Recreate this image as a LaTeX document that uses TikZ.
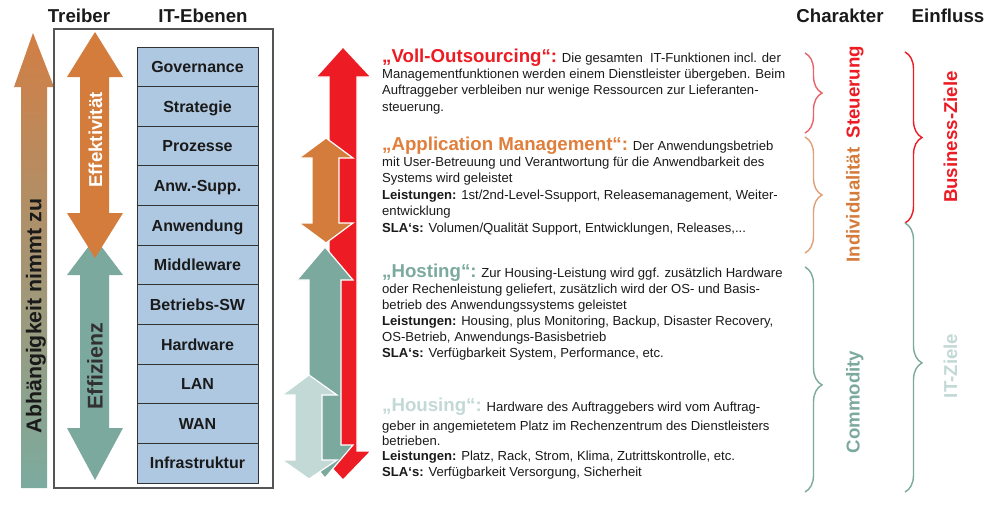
\documentclass[tikz,border=0pt]{standalone}
\usepackage{fontspec}
\setmainfont{Liberation Sans}
\usetikzlibrary{decorations.pathreplacing}
\definecolor{cred}{HTML}{ED1C24}
\definecolor{corange}{HTML}{D47C3C}
\definecolor{ctorange}{HTML}{E07F3C}
\definecolor{cteal}{HTML}{7CA99E}
\definecolor{clteal}{HTML}{C3D9D5}
\definecolor{cblue}{HTML}{AEC8E1}
\definecolor{ctext}{HTML}{1A1A1A}
\definecolor{cbrred}{HTML}{E8646C}
\definecolor{cbror}{HTML}{E0A07A}
\definecolor{cabtop}{HTML}{D27E44}
\definecolor{cabbot}{HTML}{7BAB9F}
\definecolor{cframe}{HTML}{555555}
\newcommand\mytitle[2]{{\fontsize{18.67}{22}\selectfont\bfseries\color{#1}#2}}
\begin{document}
\begin{tikzpicture}[x=1pt,y=-1pt,
  hdr/.style={anchor=base, inner sep=0pt, font=\fontsize{18.67}{22}\selectfont\bfseries, text=ctext},
  layer/.style={draw=black!80, fill=cblue, line width=0.9pt, minimum width=121pt, minimum height=39.636pt,
     text height=11.6pt, text depth=0pt, inner sep=0pt, font=\fontsize{16}{19}\selectfont\bfseries, text=ctext},
  ln/.style={anchor=base west, inner sep=0pt, font=\fontsize{13.1}{16}\selectfont, text=ctext},
  vlab/.style={anchor=base, rotate=90, inner sep=0pt, font=\fontsize{18.67}{22}\selectfont\bfseries},
  bigvlab/.style={anchor=base, rotate=90, inner sep=0pt, font=\fontsize{21.33}{25}\selectfont\bfseries},
  arr/.style={draw=white, line width=1.2pt, line join=miter},
  brc/.style={decorate, decoration={brace, amplitude=17pt}, line width=1.4pt},
]
\fill[white] (0,0) rectangle (996,507);
\useasboundingbox (0,0) rectangle (996,507);

% headers
\node[hdr] (hTreiber) at (79,22) {Treiber};
\node[hdr] (hIT) at (203,22) {IT-Ebenen};
\node[hdr] (hChar) at (840,22) {Charakter};
\node[hdr] (hEinfl) at (948,22) {Einfluss};

% big left gradient arrow
\shade[top color=cabtop, bottom color=cabbot]
  (33,33) -- (54,87) -- (47,87) -- (47,488) -- (21,488) -- (21,87) -- (14,87) -- cycle;
\node[bigvlab, text=ctext] (abh) at (41.5,316) {Abhängigkeit nimmt zu};

% frame
\draw[cframe, line width=1.4pt] (54,29) rectangle (273,488);

% Effizienz / Effektivitaet arrows
\fill[cteal] (95,238) -- (123,275) -- (109,275) -- (109,428) -- (123,428) -- (95,480)
  -- (67,428) -- (80,428) -- (80,275) -- (67,275) -- cycle;
\fill[corange] (95,32) -- (123,77) -- (109,77) -- (109,213) -- (123,213) -- (95,258)
  -- (67,213) -- (80,213) -- (80,77) -- (67,77) -- cycle;
\node[vlab, text=white] (effekt) at (102,140) {Effektivität};
\node[bigvlab, text=ctext!90] (effiz) at (102.5,366) {Effizienz};

% layers
\foreach \t [count=\i] in {Governance,Strategie,Prozesse,Anw.-Supp.,Anwendung,Middleware,Betriebs-SW,Hardware,LAN,WAN,Infrastruktur}{
  \node[layer] (l\i) at (197.5,{47+39.636*(\i-0.5)}) {\t};
}

% middle arrows
\filldraw[arr, fill=cred] (343,47) -- (371,77) -- (357,77) -- (357,451) -- (371,451) -- (343,480)
  -- (316,451) -- (329,451) -- (329,77) -- (316,77) -- cycle;
\filldraw[arr, fill=corange] (326,138) -- (353,158) -- (339,158) -- (339,223) -- (353,223) -- (326,243)
  -- (299,223) -- (312,223) -- (312,158) -- (299,158) -- cycle;
\filldraw[arr, fill=cteal] (325,247) -- (353,280) -- (341,280) -- (341,445) -- (353,445) -- (325,478)
  -- (297,445) -- (309,445) -- (309,280) -- (297,280) -- cycle;
\filldraw[arr, fill=clteal] (309,375) -- (337,395) -- (322,395) -- (322,460) -- (337,460) -- (309,479)
  -- (282,460) -- (295,460) -- (295,395) -- (282,395) -- cycle;

% text blocks
\node[ln] (v1) at (382,62.5) {\mytitle{cred}{„Voll-Outsourcing“:} Die gesamten~ IT-Funktionen incl. der};
\node[ln] (v2) at (382,78.5) {Managementfunktionen werden einem Dienstleister übergeben. Beim};
\node[ln] (v3) at (382,94.7) {Auftraggeber verbleiben nur wenige Ressourcen zur Lieferanten-};
\node[ln] (v4) at (382,111) {steuerung.};

\node[ln] (a1) at (382,150) {\mytitle{ctorange}{„Application Management“:} Der Anwendungsbetrieb};
\node[ln] (a2) at (382,166) {mit User-Betreuung und Verantwortung für die Anwendbarkeit des};
\node[ln] (a3) at (382,182.5) {Systems wird geleistet};
\node[ln] (a4) at (382,199) {\textbf{Leistungen:} 1st/2nd-Level-Ssupport, Releasemanagement, Weiter-};
\node[ln] (a5) at (382,215.5) {entwicklung};
\node[ln] (a6) at (382,232) {\textbf{SLA‘s:} Volumen/Qualität Support, Entwicklungen, Releases,...};

\node[ln] (h1) at (382,277) {\mytitle{cteal}{„Hosting“:} Zur Housing-Leistung wird ggf. zusätzlich Hardware};
\node[ln] (h2) at (382,293) {oder Rechenleistung geliefert, zusätzlich wird der OS- und Basis-};
\node[ln] (h3) at (382,309.3) {betrieb des Anwendungssystems geleistet};
\node[ln] (h4) at (382,325.5) {\textbf{Leistungen:} Housing, plus Monitoring, Backup, Disaster Recovery,};
\node[ln] (h5) at (382,341.5) {OS-Betrieb, Anwendungs-Basisbetrieb};
\node[ln] (h6) at (382,357.5) {\textbf{SLA‘s:} Verfügbarkeit System, Performance, etc.};

\node[ln] (g1) at (382,411) {\mytitle{clteal}{„Housing“:} Hardware des Auftraggebers wird vom Auftrag-};
\node[ln] (g2) at (382,430) {geber in angemietetem Platz im Rechenzentrum des Dienstleisters};
\node[ln] (g3) at (382,445.3) {betrieben.};
\node[ln] (g4) at (382,460.5) {\textbf{Leistungen:} Platz, Rack, Strom, Klima, Zutrittskontrolle, etc.};
\node[ln] (g5) at (382,476) {\textbf{SLA‘s:} Verfügbarkeit Versorgung, Sicherheit};

% braces Charakter
\draw[brc, cbrred] (805,53) -- (805,133);
\draw[brc, cbror] (805,137) -- (805,253);
\draw[brc, cteal, decoration={brace, amplitude=17pt, aspect=0.524}] (805,267) -- (805,492);
\node[vlab, text=cred] (steu) at (859.5,92) {Steuerung};
\node[vlab, text=corange] (indiv) at (859.5,205) {Individualität};
\node[vlab, text=cteal] (comm) at (859.5,402) {Commodity};

% braces Einfluss
\draw[brc, cred] (905,52) -- (905,223);
\draw[brc, cteal, decoration={brace, amplitude=17pt, aspect=0.52}] (905,223) -- (905,492);
\node[vlab, text=cred] (bz) at (957,137) {Business-Ziele};
\node[vlab, text=clteal] (itz) at (957,366) {IT-Ziele};
\end{tikzpicture}
\end{document}
